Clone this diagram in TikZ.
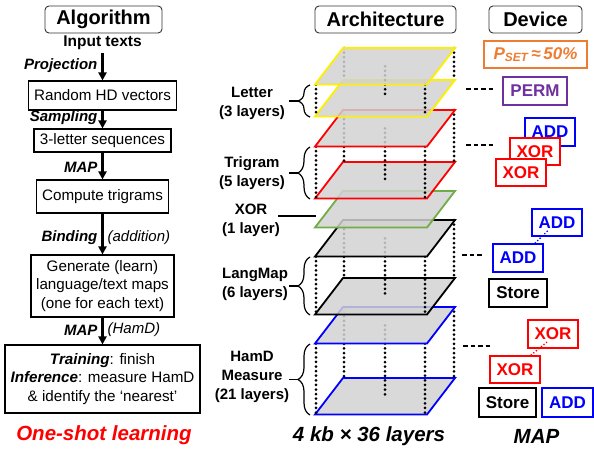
\documentclass[tikz,border=0pt]{standalone}
\usepackage{fontspec}
\setmainfont{Liberation Sans}
\usepackage{tikz}
\usetikzlibrary{arrows.meta,positioning,calc,decorations.pathreplacing}
\definecolor{lyellow}{RGB}{255,238,0}
\definecolor{tred}{RGB}{255,0,0}
\definecolor{xgreen}{RGB}{112,173,71}
\definecolor{hblue}{RGB}{0,0,255}
\definecolor{permpurple}{RGB}{112,48,160}
\definecolor{setorange}{RGB}{237,125,49}
\definecolor{layergray}{RGB}{210,210,210}
\definecolor{alertred}{RGB}{255,0,0}

% one layer of the stack, #1 = y of its back edge
\newcommand{\layer}[2]{\draw[layerbox, draw=#2] (315,#1+36.5) -- (427,#1+36.5) -- (455,#1) -- (343,#1) -- cycle;}
% dotted pillars between two layers of a group
\newcommand{\pillars}[2]{%
    \foreach \px/\dy in {316/36.5, 425/36.5, 454/0, 344/0, 385/18.25}{%
        \draw[pillar] (\px,#1+\dy) -- (\px,#2+\dy);
    }%
}

\begin{document}
\begin{tikzpicture}[x=1pt, y=-1pt,
    title/.style={rectangle, rounded corners=4pt, draw=black!80, line width=0.9pt, minimum height=27pt, inner sep=0pt, font=\fontsize{20}{24}\selectfont\bfseries},
    box/.style={rectangle, draw, line width=1.1pt, fill=white, inner sep=0pt, align=center, font=\fontsize{15.2}{18.5}\selectfont},
    arrow/.style={-{Triangle[width=8pt,length=8pt]}, line width=2.2pt},
    lbl/.style={font=\fontsize{15}{18}\selectfont\bfseries\itshape, inner sep=1pt},
    note/.style={font=\fontsize{15}{18}\selectfont\itshape, inner sep=1pt},
    grp/.style={align=center, font=\fontsize{15}{19}\selectfont\bfseries},
    layerbox/.style={line width=1.8pt, fill=layergray, fill opacity=0.85},
    pillar/.style={black, line width=3pt, line cap=round, dash pattern=on 0pt off 4.6pt},
    brc/.style={decorate, decoration={brace, amplitude=12pt}, line width=1.2pt},
    stub/.style={line width=1.3pt},
    dev/.style={rectangle, draw, line width=1.4pt, fill=white, inner sep=0pt, minimum height=28pt, font=\fontsize{17}{20}\selectfont\bfseries},
    dashlink/.style={line width=1.5pt, dash pattern=on 4.5pt off 3pt},
    big/.style={font=\fontsize{20.5}{24}\selectfont\bfseries\itshape}
]
    \useasboundingbox (0,0) rectangle (594,448);

    % titles
    \node[title, minimum width=117pt] (talg) at (103.5,19.5) {Algorithm};
    \node[title, minimum width=141pt] (tarch) at (385.5,19.5) {Architecture};
    \node[title, minimum width=93pt] (tdev) at (535.5,19.5) {Device};

    % algorithm flow
    \node[font=\fontsize{15.5}{18}\selectfont\bfseries] (in) at (102.5,43) {Input texts};
    \node[box, minimum width=148pt, minimum height=29pt] (alg1) at (102.5,95.5) {Random HD vectors};
    \node[box, minimum width=137pt, minimum height=23pt] (alg2) at (102.5,140.5) {3-letter sequences};
    \node[box, minimum width=132pt, minimum height=33pt] (alg3) at (102.5,196.5) {Compute trigrams};
    \node[box, minimum width=143pt, minimum height=62pt] (alg4) at (102.5,286) {Generate (learn)\\language/text maps\\(one for each text)};
    \node[box, minimum width=195pt, minimum height=68pt] (alg5) at (102.5,379) {\textbf{\textit{Training}}: finish\\\textbf{\textit{Inference}}: measure HamD\\\& identify the ‘nearest’};

    \draw[arrow] (in) -- node[lbl, left=3pt, pos=0.45] {Projection} (alg1);
    \draw[arrow] (alg1) -- node[lbl, left=3pt, pos=0.37] {Sampling} (alg2);
    \draw[arrow] (alg2) -- node[lbl, left=3pt, pos=0.54] {MAP} (alg3);
    \draw[arrow] (alg3) -- node[lbl, left=3pt, pos=0.6] {Binding} node[note, right=3pt, pos=0.6] {(addition)} (alg4);
    \draw[arrow] (alg4) -- node[lbl, left=3pt, pos=0.46] {MAP} node[note, right=3pt, pos=0.46] {(HamD)} (alg5);

    \node[big, text=alertred] (osl) at (104,435) {One-shot learning};

    % layer stack, bottom first
    \layer{378}{hblue}
    \pillars{307}{378}
    \layer{307}{hblue}
    \layer{278}{black}
    \pillars{220}{278}
    \layer{220}{black}
    \layer{191}{xgreen}
    \layer{162}{tred}
    \pillars{110}{162}
    \layer{110}{tred}
    \layer{80}{lyellow}
    \pillars{48}{80}
    \layer{48}{lyellow}

    % group labels
    \node[grp] (gletter) at (252,103.5) {Letter\\(3 layers)};
    \node[grp] (gtri) at (252,173.5) {Trigram\\(5 layers)};
    \node[grp] (gxor) at (251,220.5) {XOR\\(1 layer)};
    \node[grp] (glang) at (255,284.5) {LangMap\\(6 layers)};
    \node[grp] (gham) at (252,376.5) {HamD\\Measure\\(21 layers)};

    \foreach \ya/\yb in {85/117, 147/199, 257/315, 344/415} {
        \draw[brc] (310,\yb) -- (310,\ya);
        \draw[stub] (298,{(\ya+\yb)/2}) -- (289,{(\ya+\yb)/2});
    }
    \coordinate (xorl) at (278,216);
    \coordinate (xorr) at (316,216);
    \draw[stub] (xorl) -- (xorr);

    \node[big] (size) at (369,436) {4 kb × 36 layers};

    % links to the device column
    \coordinate (k1a) at (466,89);  \coordinate (k1b) at (495,89);
    \coordinate (k2a) at (466,145); \coordinate (k2b) at (495,145);
    \coordinate (k3a) at (462,255); \coordinate (k3b) at (484,255);
    \coordinate (k4a) at (463,346); \coordinate (k4b) at (493,346);
    \draw[dashlink] (k1a) -- (k1b);
    \draw[dashlink] (k2a) -- (k2b);
    \draw[dashlink] (k3a) -- (k3b);
    \draw[dashlink] (k4a) -- (k4b);

    % device column
    \node[dev, draw=setorange, text=setorange, minimum width=103pt, minimum height=27pt, font=\fontsize{17}{20}\selectfont\bfseries\itshape] (pset) at (535.5,54.5) {P\textsubscript{SET}\,≈\,50\%};
    \node[dev, draw=permpurple, text=permpurple, minimum width=64pt] (perm) at (535,91) {PERM};

    \node[dev, draw=hblue, text=hblue, minimum width=50pt] (add1) at (550,132) {ADD};
    \node[dev, draw=tred, text=tred, minimum width=50pt, minimum height=27pt] (xor1) at (535,151.5) {XOR};
    \node[dev, draw=tred, text=tred, minimum width=50pt, minimum height=27pt] (xor2) at (521,172.5) {XOR};

    \node[dev, draw=hblue, text=hblue, minimum width=50pt, minimum height=27pt] (add2) at (557,222.5) {ADD};
    \node[dev, draw=hblue, text=hblue, minimum width=50pt] (add3) at (518,258) {ADD};
    \node[dev, minimum width=58pt] (store1) at (518,293) {Store};
    \draw[hblue, line width=1.3pt, dotted] (add3.41) -- ($(add2.center)+(-8,7)$);

    \node[dev, draw=tred, text=tred, minimum width=50pt] (xor3) at (553,334) {XOR};
    \node[dev, draw=tred, text=tred, minimum width=50pt, minimum height=27pt] (xor4) at (515,369.5) {XOR};
    \draw[tred, line width=1.3pt, dotted] (xor4.42) -- ($(xor3.center)+(-6,8)$);
    \node[dev, minimum width=57pt, minimum height=29pt] (store2) at (507.5,402.5) {Store};
    \node[dev, draw=hblue, text=hblue, minimum width=51pt, minimum height=29pt] (add4) at (567.5,402.5) {ADD};

    \node[big] (map) at (536.5,436) {MAP};
\end{tikzpicture}
\end{document}
